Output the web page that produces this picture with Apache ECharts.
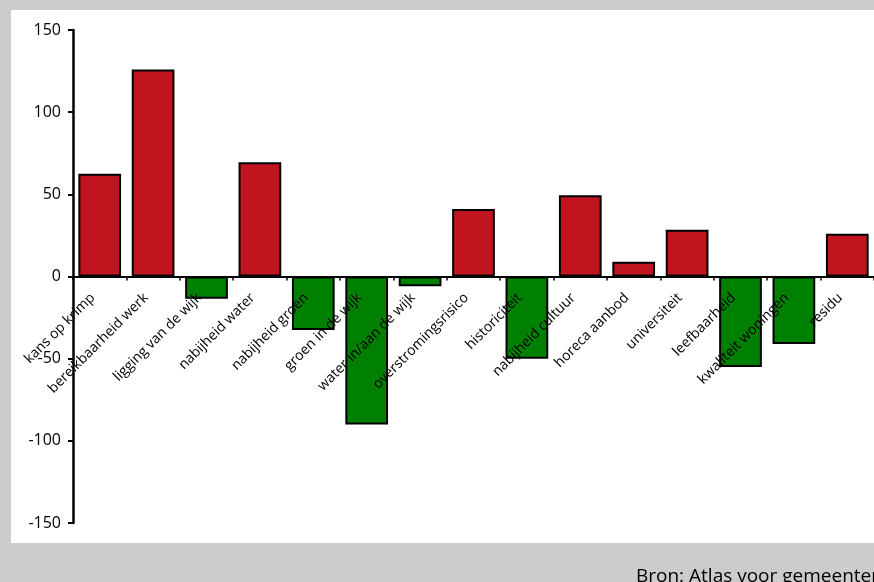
<!DOCTYPE html>
<html><head><meta charset="utf-8">
<script src="https://cdn.jsdelivr.net/npm/echarts@6/dist/echarts.min.js"></script>
<style>html,body{margin:0;padding:0;background:#cccccc;}#c{width:874px;height:582px;}</style>
</head><body><div id="c"></div>
<script>
const categories = ["kans op krimp","bereikbaarheid werk","ligging van de wijk","nabijheid water","nabijheid groen","groen in de wijk","water in/aan de wijk","overstromingsrisico","historiciteit","nabijheid cultuur","horeca aanbod","universiteit","leefbaarheid","kwaliteit woningen","residu"];
const values = [62.5, 126, -13.5, 69.5, -32.5, -90, -6, 41, -50, 49.5, 9, 28.5, -55, -41, 26];
const yTicks = {min: -150, max: 150, interval: 50};
const source = "Bron: Atlas voor gemeenten";

const gridTop = 30, gridBottom = 59, H = 582;
const gridH = H - gridTop - gridBottom;
const zeroOffset = -gridH * (0 - yTicks.min) / (yTicks.max - yTicks.min);

const chart = echarts.init(document.getElementById('c'), null, {renderer: 'canvas'});
const font = "'Open Sans', 'DejaVu Sans', sans-serif";
chart.setOption({
  animation: false,
  backgroundColor: '#cccccc',
  graphic: [
    {type: 'rect', z: -10, shape: {x: 11, y: 10, width: 863, height: 533}, style: {fill: '#ffffff'}},
    {type: 'text', left: 636, top: 567, style: {text: source, font: "19px " + font, fill: '#000'}}
  ],
  grid: {left: 73, top: gridTop, bottom: gridBottom, right: -3, containLabel: false},
  xAxis: {
    type: 'category', data: categories, position: 'bottom', offset: zeroOffset,
    axisLine: {onZero: false, lineStyle: {color: '#000', width: 2}},
    axisTick: {show: true, length: 4, lineStyle: {color: '#000', width: 1.5}},
    axisLabel: {rotate: 45, margin: 12, padding: [0, 10, 0, 0], fontSize: 14, color: '#000', fontFamily: font, interval: 0},
    z: 10
  },
  yAxis: {
    type: 'value', min: yTicks.min, max: yTicks.max, interval: yTicks.interval,
    axisLine: {show: true, lineStyle: {color: '#000', width: 2.5}},
    axisTick: {show: true, length: 5, lineStyle: {color: '#000', width: 2}},
    axisLabel: {fontSize: 16, color: '#000', fontFamily: font, margin: 12},
    splitLine: {show: false}
  },
  series: [{
    type: 'bar', data: values, barCategoryGap: '20%',
    itemStyle: {
      borderColor: '#000', borderWidth: 2,
      color: p => p.value >= 0 ? '#c0141e' : '#008000'
    }
  }]
});
</script></body></html>
